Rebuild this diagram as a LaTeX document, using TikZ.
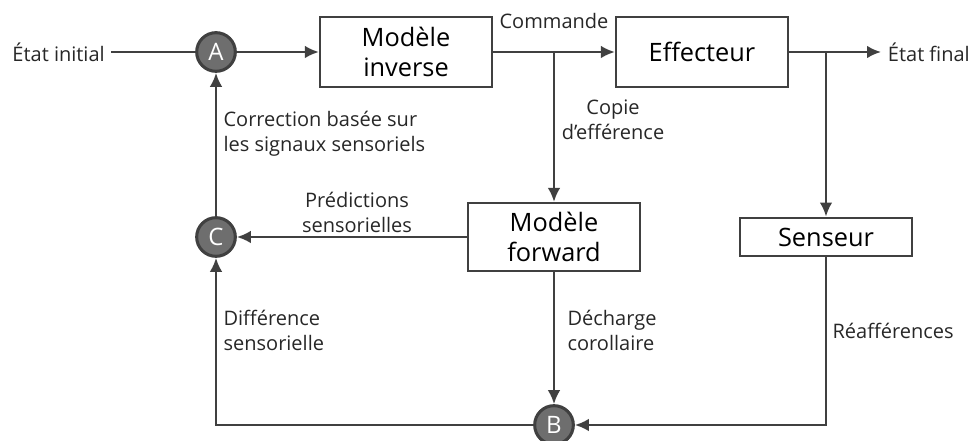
\documentclass[tikz,border=0pt]{standalone}
\usepackage{fontspec}
\setmainfont{Open Sans}
\usetikzlibrary{arrows.meta}
\definecolor{traitgris}{RGB}{64,64,64}
\definecolor{sommegris}{RGB}{110,110,110}
\begin{document}
\begin{tikzpicture}
			[
				x = 0.75pt, y = -0.75pt,
				trait/.style  = {draw=traitgris, line width=1.7pt},
				fleche/.style = {trait, -{Latex[length=10.5pt,width=9.5pt]}},
				bloc/.style   = {draw=traitgris, line width=1.7pt, align=center, inner sep=0pt,
				                 minimum width=129pt, font=\fontsize{19}{23}\selectfont},
				somme/.style  = {circle, fill=sommegris, draw=traitgris, line width=2.3pt, text=white,
				                 minimum size=29pt, inner sep=0pt, font=\fontsize{18}{18}\selectfont},
				etiq/.style   = {inner sep=1pt, text=traitgris!60!black, font=\fontsize{15}{18.75}\selectfont}
			]
			\useasboundingbox (0,0) rectangle (973,441);
			% blocs
			\node [bloc, minimum height=52pt] (inverse) at (406,52)  {Modèle\\inverse};
			\node [bloc, minimum height=52pt] (effect)  at (702,52)  {Effecteur};
			\node [bloc, minimum height=51pt] (forward) at (554,237) {Modèle\\forward};
			\node [bloc, minimum height=29pt] (senseur) at (826,237) {Senseur};
			% sommes
			\node [somme] (A) at (216,52)  {A};
			\node [somme] (C) at (216,237) {C};
			\node [somme] (B) at (554,425) {B};
			% entree et sortie
			\node [etiq, inner xsep=4.5pt, anchor=east] (initial) at (111,52) {État initial};
			\node [etiq, inner xsep=5pt, anchor=west]   (final)   at (881,52) {État final};
			% connexions
			\draw [trait]  (initial) -- (A);
			\draw [fleche] (A) -- (inverse);
			\draw [fleche] (inverse) -- (effect);
			\draw [fleche] (inverse.east -| forward.north) -- (forward);
			\draw [fleche] (effect) -- (final);
			\draw [fleche] (effect.east -| senseur.north) -- (senseur);
			\draw [fleche] (senseur) |- (B);
			\draw [fleche] (forward) -- (B);
			\draw [fleche] (forward) -- (C);
			\draw [fleche] (B) -| (C);
			\draw [fleche] (C) -- (A);
			% etiquettes
			\node [etiq] (commande) at (554,21) {Commande};
			\node [etiq, align=center] (copie) at (613,120) {Copie\\d’efférence};
			\node [etiq, align=left, anchor=west] (correction) at (222,134) {Correction basée sur\\les signaux sensoriels};
			\node [etiq, align=center] (predictions) at (357,212) {Prédictions\\sensorielles};
			\node [etiq, align=left, anchor=west] (difference) at (222,330) {Différence\\sensorielle};
			\node [etiq, align=left, anchor=west] (decharge) at (566,330) {Décharge\\corollaire};
			\node [etiq, anchor=west] (reafferences) at (831,331) {Réafférences};
		\end{tikzpicture}
\end{document}
